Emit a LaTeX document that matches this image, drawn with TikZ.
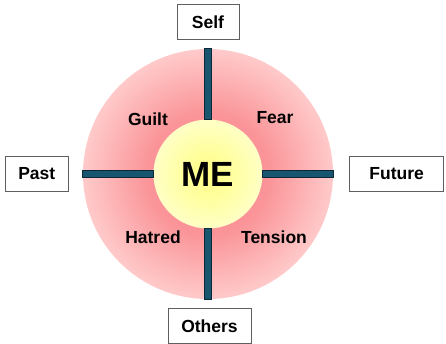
\documentclass[tikz,border=0pt]{standalone}
\usepackage{fontspec}
\setmainfont{Liberation Sans}
\usetikzlibrary{positioning}
\definecolor{barblue}{RGB}{24,86,112}
\definecolor{bardark}{RGB}{12,40,56}
\definecolor{ringdark}{RGB}{250,148,152}
\definecolor{ringlight}{RGB}{255,202,202}
\definecolor{coremid}{RGB}{255,254,128}
\definecolor{coreedge}{RGB}{255,255,198}
\definecolor{boxgray}{RGB}{95,95,95}
\pgfdeclareradialshading{ringshade}{\pgfpoint{0bp}{0bp}}{color(0bp)=(ringdark); color(12bp)=(ringdark); color(25bp)=(ringlight); color(50bp)=(ringlight)}
\pgfdeclareradialshading{coreshade}{\pgfpoint{0bp}{0bp}}{color(0bp)=(coremid); color(25bp)=(coreedge); color(50bp)=(coreedge)}
\tikzset{
  lbl/.style={font=\bfseries\fontsize{17.5}{18}\selectfont},
  tag/.style={draw=boxgray, line width=1pt, fill=white, minimum height=35pt, inner sep=0pt, lbl},
  bar/.style={fill=barblue, draw=bardark, line width=0.8pt}
}
\begin{document}
\begin{tikzpicture}[x=1pt, y=1pt]
    \useasboundingbox (0,0) rectangle (446,343);

    % Rings
    \node[circle, minimum size=250pt, inner sep=0pt, shading=ringshade] (ring) at (208,169) {};
    \node[circle, minimum size=109pt, inner sep=0pt, shading=coreshade,
          font=\bfseries\fontsize{35}{35}\selectfont] (core) at (ring) {ME};

    % Bars
    \draw[bar] ([xshift=-3.3pt]ring.north) rectangle ([xshift=3.3pt]core.north);
    \draw[bar] ([xshift=-3.3pt]ring.south) rectangle ([xshift=3.3pt]core.south);
    \draw[bar] ([yshift=-3.3pt]ring.west) rectangle ([yshift=3.3pt]core.west);
    \draw[bar] ([yshift=-3.3pt]ring.east) rectangle ([yshift=3.3pt]core.east);

    % Quadrants
    \node[lbl] (guilt) at (148,224) {Guilt};
    \node[lbl] (fear) at (275,225) {Fear};
    \node[lbl] (hatred) at (153,106) {Hatred};
    \node[lbl] (tension) at (274,106) {Tension};

    % Tags
    \node[tag, minimum width=62pt, above=9pt of ring] (self) {Self};
    \node[tag, minimum width=63pt, left=14pt of ring] (past) {Past};
    \node[tag, minimum width=94pt, right=16pt of ring] (future) {Future};
    \node[tag, minimum width=83pt, below=9pt of ring, xshift=1.5pt] (others) {Others};
\end{tikzpicture}
\end{document}
